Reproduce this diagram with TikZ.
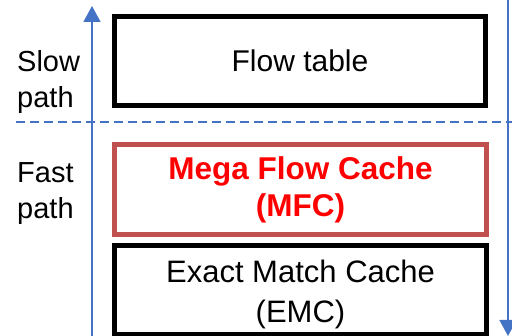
\documentclass[tikz,border=0pt]{standalone}
\usepackage{fontspec}
\setmainfont{Liberation Sans}
\usetikzlibrary{arrows.meta}
\definecolor{flowblue}{HTML}{4472C4}
\definecolor{mfcframe}{HTML}{C0504D}
\definecolor{mfctext}{HTML}{FF0000}
\tikzset{
  cachebox/.style={draw=black, line width=5pt, inner sep=0pt, align=center,
    font=\fontsize{30}{40}\selectfont},
  mfcbox/.style={draw=mfcframe, line width=5pt, inner sep=0pt, align=center,
    text=mfctext, font=\fontsize{31.5}{37}\selectfont\bfseries},
  pathlabel/.style={anchor=west, inner sep=0pt, align=left,
    font=\fontsize{29}{36}\selectfont},
  flowarrow/.style={draw=flowblue, line width=1.5pt, -{Triangle[width=17pt,length=16pt]}},
  splitline/.style={draw=flowblue, line width=1.5pt, dash pattern=on 9pt off 5pt}
}
\begin{document}
\begin{tikzpicture}[x=1pt,y=-1pt]
  \useasboundingbox (0,0) rectangle (512,336);

  % cache levels, slowest on top
  \node[cachebox, minimum width=371pt, minimum height=89pt] (flow) at (300,61) {Flow table};
  \node[mfcbox, minimum width=372pt, minimum height=90pt] (mfc) at (300.5,189.5) {Mega Flow Cache\\(MFC)};
  % the strut lowers the two text lines a little inside the box
  \node[cachebox, font=\fontsize{31}{40}\selectfont,
        minimum width=372pt, minimum height=89pt] (emc) at (300.5,290)
        {\rule{0pt}{31pt}Exact Match Cache\\(EMC)};

  % side labels
  \node[pathlabel] (slow) at (17,82) {Slow\\path};
  \node[pathlabel] (fast) at (17,194) {Fast\\path};

  % boundary between slow and fast path
  \coordinate (splitL) at (16,122);
  \coordinate (splitR) at (512,122);
  \draw[splitline] (splitL) -- (splitR);

  % upward and downward lookup arrows
  \coordinate (upS) at (92,340);
  \coordinate (upE) at (92,6);
  \coordinate (downS) at (508,-2);
  \coordinate (downE) at (508,336);
  \draw[flowarrow] (upS) -- (upE);
  \draw[flowarrow] (downS) -- (downE);
\end{tikzpicture}
\end{document}
